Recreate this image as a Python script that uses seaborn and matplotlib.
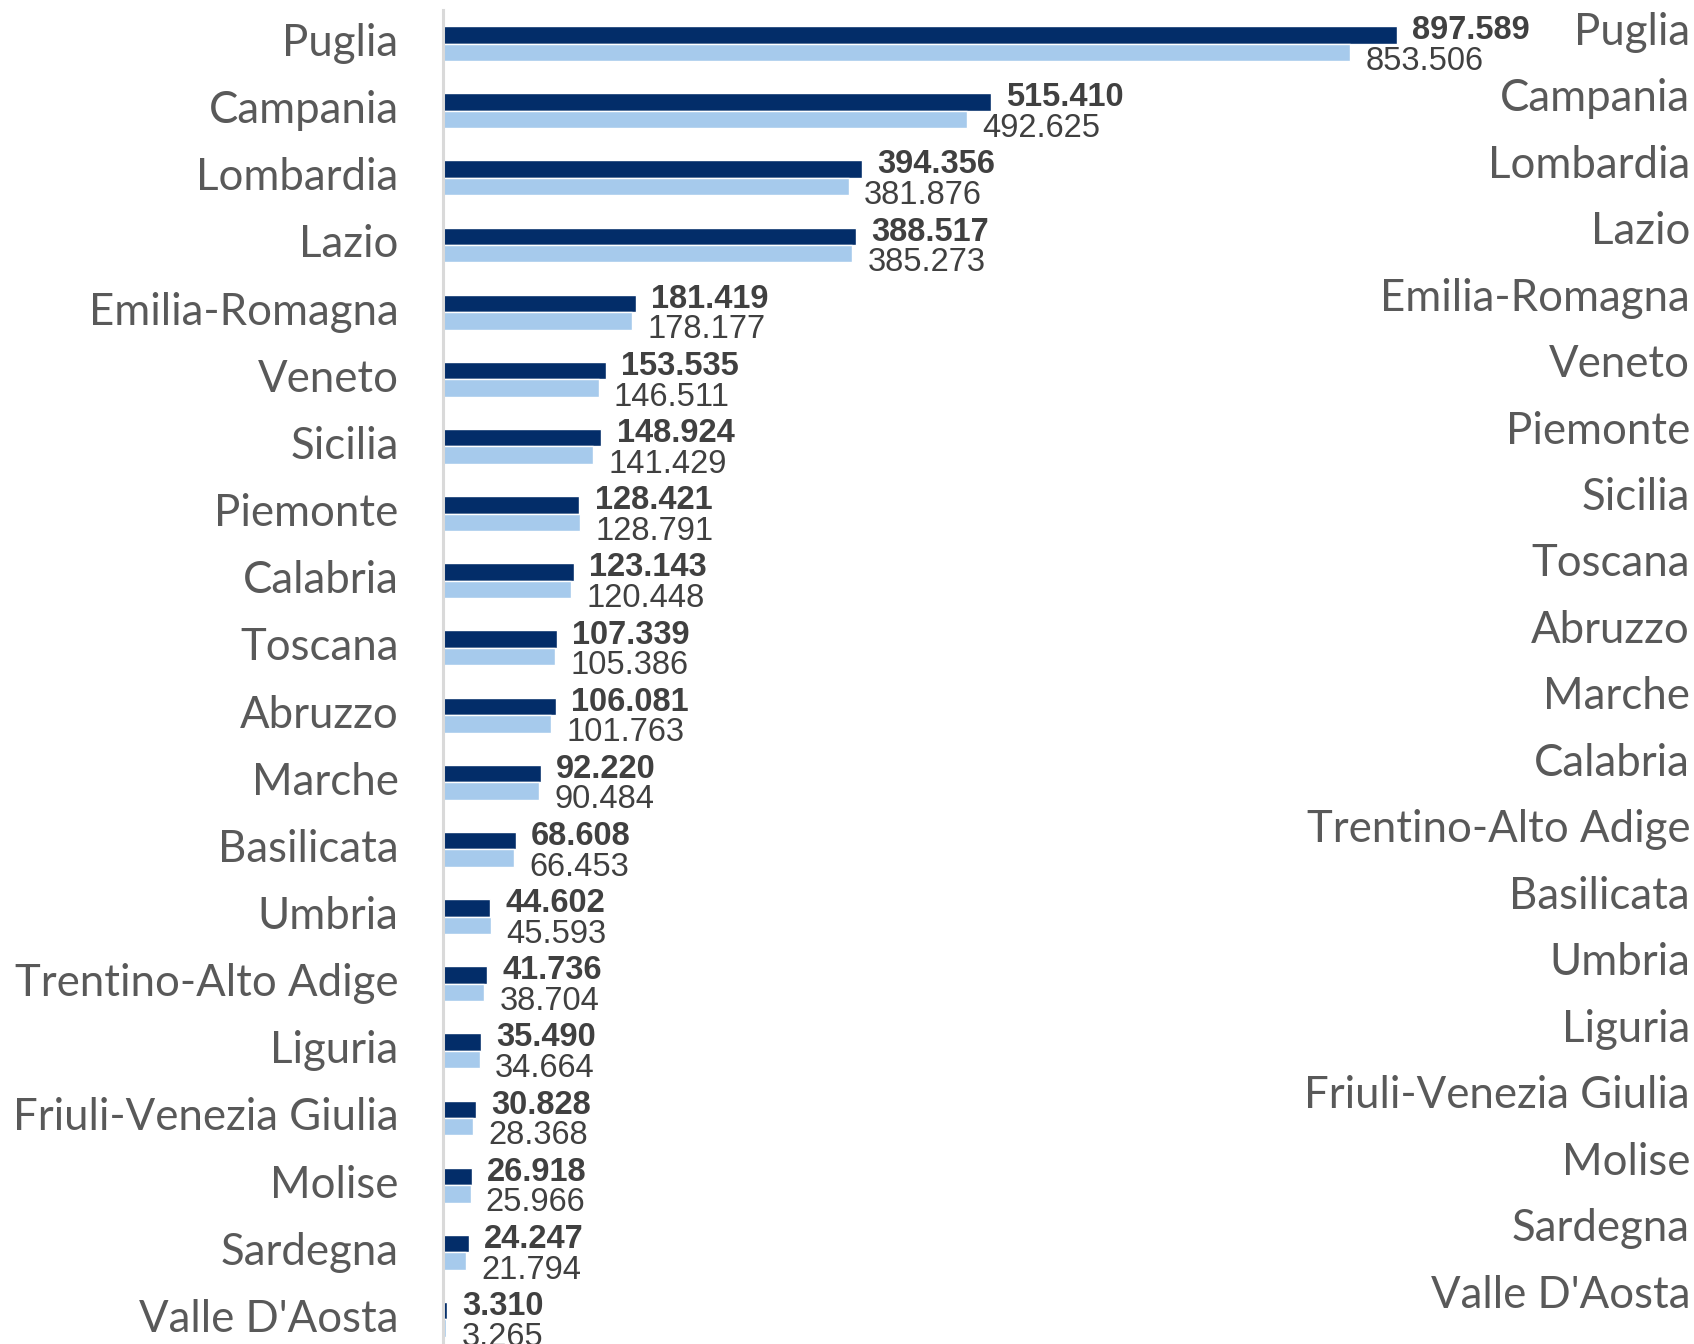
import matplotlib
matplotlib.use("Agg")
import matplotlib.pyplot as plt
import seaborn as sns
import pandas as pd

regions = ["Puglia", "Campania", "Lombardia", "Lazio", "Emilia-Romagna", "Veneto",
           "Sicilia", "Piemonte", "Calabria", "Toscana", "Abruzzo", "Marche",
           "Basilicata", "Umbria", "Trentino-Alto Adige", "Liguria",
           "Friuli-Venezia Giulia", "Molise", "Sardegna", "Valle D'Aosta"]
serie_a = [897589, 515410, 394356, 388517, 181419, 153535, 148924, 128421, 123143,
           107339, 106081, 92220, 68608, 44602, 41736, 35490, 30828, 26918, 24247, 3310]
serie_b = [853506, 492625, 381876, 385273, 178177, 146511, 141429, 128791, 120448,
           105386, 101763, 90484, 66453, 45593, 38704, 34664, 28368, 25966, 21794, 3265]
right_labels = ["Puglia", "Campania", "Lombardia", "Lazio", "Emilia-Romagna", "Veneto",
                "Piemonte", "Sicilia", "Toscana", "Abruzzo", "Marche", "Calabria",
                "Trentino-Alto Adige", "Basilicata", "Umbria", "Liguria",
                "Friuli-Venezia Giulia", "Molise", "Sardegna", "Valle D'Aosta"]
series_names = ["Serie A", "Serie B"]

df = pd.DataFrame({
    "Regione": regions * 2,
    "Valore": serie_a + serie_b,
    "Serie": [series_names[0]] * len(regions) + [series_names[1]] * len(regions),
})

sns.set_theme(style="white")
plt.rcParams["font.family"] = ["Lato", "DejaVu Sans"]

W, H = 1694, 1344
fig = plt.figure(figsize=(W / 100, H / 100), dpi=100)
left_px, right_px, top_px = 443, 1690, 10
ax = fig.add_axes([left_px / W, 0, (right_px - left_px) / W, 1 - top_px / H])

dark, light = "#032D69", "#A6CAEC"
sns.barplot(data=df, y="Regione", x="Valore", hue="Serie", order=regions,
            hue_order=series_names, palette=[dark, light], orient="h",
            width=0.52, ax=ax, legend=False, saturation=1)

pitch = 67.15
ax.set_ylim((H - top_px) / pitch - 0.5, -0.5)
ax.set_xlim(0, (right_px - left_px) / 1.0628 * 1000)

label_color = "#595959"
ax.set_xlabel("")
ax.set_ylabel("")
ax.set_xticks([])
ax.set_yticks([i - 0.06 for i in range(len(regions))])
ax.set_yticklabels(regions)
ax.tick_params(axis="y", length=0, pad=32, labelsize=31.5, labelcolor=label_color)
for s in ["top", "right", "bottom"]:
    ax.spines[s].set_visible(False)
ax.spines["left"].set_color("#D9D9D9")
ax.spines["left"].set_linewidth(2.2)

def fmt(v):
    return f"{v:,}".replace(",", ".")

val_color = "#404040"
for cont, bold, dy in zip(ax.containers, ["bold", "normal"], [3, -6.5]):
    for rect in cont:
        w = rect.get_width()
        yc = rect.get_y() + rect.get_height() / 2
        ax.annotate(fmt(int(round(w))), (w, yc), xytext=(11, dy),
                    textcoords="offset points", ha="left", va="center",
                    fontsize=23.5, fontweight=bold, color=val_color,
                    family=["Liberation Sans", "DejaVu Sans"])

ax2 = ax.twinx()
ax2.set_ylim(ax.get_ylim())
pos = [-0.23 + 0.99 * i for i in range(len(right_labels))]
ax2.set_yticks(pos)
ax2.set_yticklabels(right_labels, ha="right")
ax2.tick_params(axis="y", length=0, pad=0, labelsize=31.5, labelcolor=label_color)
for s in ax2.spines.values():
    s.set_visible(False)

fig.savefig("out.png", dpi=100)
